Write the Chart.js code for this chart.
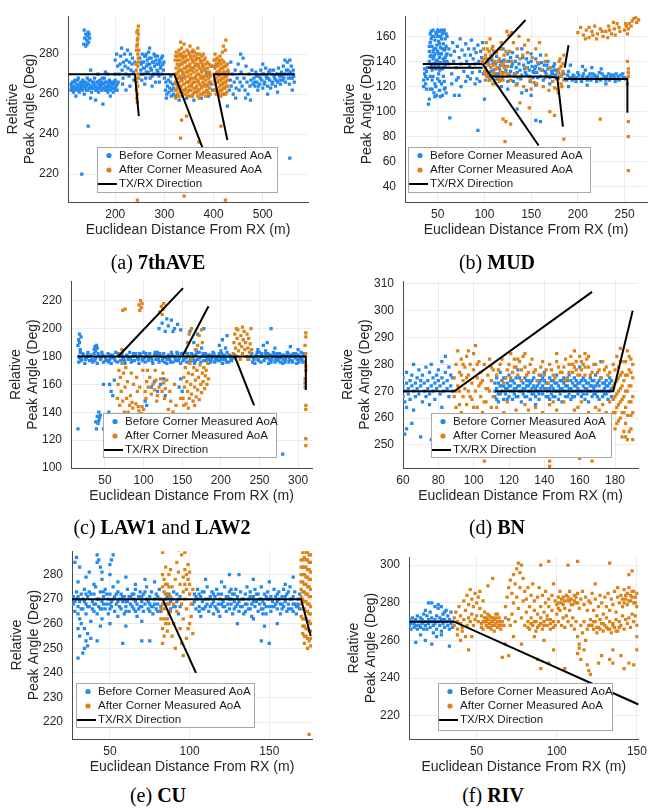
<!DOCTYPE html>
<html>
<head>
<meta charset="utf-8">
<script src="https://cdn.jsdelivr.net/npm/chart.js@4.4.1/dist/chart.umd.min.js"></script>
<style>
  body { margin: 0; background: #fff; width: 652px; height: 808px; position: relative; overflow: hidden; }
  .cap { position: absolute; width: 220px; text-align: center; line-height: 24px;
         font-family: "Liberation Serif", "DejaVu Serif", serif; font-size: 20px; color: #000; }
</style>
</head>
<body>
<script>
// ---- data ----

// (a) 7thAVE
const aBefore = [
  [136,285],[138,288],[140,290],[142,287],[144,289],[146,286],[148,288],[140,284],[145,291],[137,292],[143,285],[147,290],
  [110,262],[110,265],[112,263],[113,266],[115,261],[116,264],[118,267],[119,263],[121,262],[122,265],[124,264],[125,268],
  [127,261],[128,263],[130,266],[131,264],[133,262],[134,267],[136,265],[137,260],[139,263],[140,266],[142,264],[143,268],
  [145,262],[146,265],[148,263],[149,267],[151,264],[152,261],[154,266],[155,263],[157,265],[158,268],[160,262],[161,264],
  [163,266],[164,263],[166,261],[167,265],[169,267],[170,264],[172,262],[173,266],[175,263],[176,265],[178,268],[179,262],
  [181,264],[182,266],[184,263],[185,261],[187,265],[188,267],[190,262],[191,264],[193,266],[194,263],[196,261],[197,265],
  [199,263],[200,267],[202,264],[204,262],[150,258],[160,257],[120,259],[190,259],[200,270],[185,270],
  [111,264],[114,262],[117,266],[120,263],[123,267],[126,262],[129,265],[132,263],[135,266],[138,264],[141,262],[144,265],
  [147,267],[150,264],[153,263],[156,266],[159,264],[162,262],[165,266],[168,263],[171,265],[174,268],[177,263],[180,266],
  [183,262],[186,264],[189,266],[192,263],[195,265],[198,266],[201,262],[204,265],
  [150,272],[165,270],[180,271],[200,277],[203,280],[205,274],
  [206,266],[208,270],[210,275],[211,279],[213,283],[214,272],[216,268],[217,276],[219,280],[220,274],[222,270],[223,277],
  [225,282],[226,273],[228,269],[229,276],[231,280],[232,272],[234,275],[235,278],[237,271],[238,267],[240,276],[215,265],
  [230,264],[222,262],
  [250,278],[252,272],[253,275],[255,280],[256,270],[258,276],[259,273],[261,279],[262,268],[264,274],[265,277],[267,271],
  [268,281],[270,275],[271,268],[273,278],[274,272],[276,276],[277,270],[279,280],[280,274],[282,266],[283,277],[285,272],
  [286,279],[288,275],[289,269],[291,276],[292,273],[294,278],[295,270],[297,275],[298,272],[300,268],[260,265],[275,264],
  [290,266],[270,283],
  [251,270],[254,276],[257,273],[260,279],[263,271],[266,275],[269,278],[272,273],[275,269],[278,276],[281,279],[284,275],
  [287,271],[290,277],[293,274],[296,279],[299,276],[254,267],[263,280],[281,270],
  [302,262],[303,266],[305,260],[306,264],[308,267],[309,261],[311,263],[312,266],[314,259],[315,262],[317,265],[318,260],
  [304,258],[313,269],[319,263],
  [322,259],[330,257],[345,258],[360,257],[375,258],[390,259],[335,268],[370,262],[385,271],[395,265],[398,262],[392,270],[396,274],
  [432,262],[434,267],[436,264],[438,270],[440,260],[442,266],[444,272],[446,263],[448,268],[450,275],[452,262],[454,266],
  [456,271],[458,264],[460,278],[462,268],[464,262],[466,274],[468,266],[470,260],[472,270],[474,264],[476,267],[478,272],
  [480,265],[445,258],[465,258],[455,280],[475,257],[435,276],
  [482,268],[484,264],[486,271],[488,266],[490,262],[492,269],[494,265],[496,272],[498,267],[500,263],[502,270],[504,266],
  [506,273],[508,268],[510,264],[512,271],[514,267],[516,263],[518,270],[520,266],[522,272],[524,268],[526,264],[528,270],
  [530,266],[532,273],[534,269],[536,265],[538,271],[540,267],[542,274],[544,270],[546,266],[548,272],[550,276],[552,268],
  [554,265],[556,271],[558,274],[560,268],[562,272],[564,266],[545,277],[555,277],[510,260],[530,261],[500,275],
  [483,266],[487,269],[491,264],[495,268],[499,270],[503,265],[507,269],[511,268],[515,272],[519,265],[523,269],[527,267],
  [531,270],[535,267],[539,269],[543,268],[547,270],[551,272],[553,270],[557,268],[561,270],[563,269],
  [132,220],[145,244],[175,255],[555,228],[428,254],[560,262]
];
const aAfter = [
  [243,262],[244,266],[245,270],[246,274],[247,278],[243,282],[245,285],[246,288],[244,291],[247,294],[245,260],[246,264],
  [244,268],[243,272],[247,276],[246,280],[244,284],[245,287],[247,290],[246,292],[248,268],[242,275],[248,282],[244,258],[245,256],
  [322,262],[322,270],[322,277],[324,265],[324,273],[324,281],[326,260],[326,268],[326,275],[328,263],[328,271],[328,279],
  [330,266],[330,274],[330,282],[332,261],[332,269],[332,277],[334,264],[334,272],[334,280],[336,259],[336,267],[336,275],
  [338,262],[338,270],[338,278],[340,265],[340,273],[340,281],[342,260],[342,268],[342,276],[344,263],[344,271],[344,279],
  [346,266],[346,274],[346,282],[348,261],[348,269],[348,277],[350,264],[350,272],[350,280],[352,259],[352,267],[352,275],
  [354,262],[354,270],[354,278],[356,265],[356,273],[356,281],[358,260],[358,268],[358,276],[360,263],[360,271],[360,279],
  [362,266],[362,274],[364,261],[364,269],[364,277],[366,264],[366,272],[366,280],[368,259],[368,267],[368,275],[370,262],
  [370,270],[370,278],[372,265],[372,273],[374,260],[374,268],[374,276],[376,263],[376,271],[376,279],[378,266],[378,274],
  [380,261],[380,269],[380,277],[382,264],[382,272],[384,259],[384,267],[384,275],[386,262],[386,270],[388,265],[388,273],
  [390,260],[390,268],[392,263],[392,271],[394,266],[394,274],[340,285],[335,283],[333,286],[368,283],[352,284],[358,282],
  [323,258],[323,266],[323,279],[325,262],[325,270],[327,264],[327,277],[329,259],[329,268],[331,272],[331,280],[333,263],
  [333,275],[335,267],[335,279],[337,261],[337,271],[339,265],[339,276],[341,269],[341,279],[343,262],[343,273],[345,266],
  [345,277],[347,259],[347,271],[349,266],[349,281],[351,262],[351,274],[353,268],[353,279],[355,264],[355,272],[357,259],
  [357,277],[359,266],[359,273],[361,261],[361,281],[363,268],[363,275],[365,263],[365,278],[367,270],[367,261],[369,274],
  [369,266],[371,258],[371,280],[373,269],[373,277],[375,264],[375,272],[377,260],[377,275],[379,268],[379,280],[381,265],
  [381,273],[383,261],[383,278],[385,269],[387,264],[387,276],[389,270],[389,261],[391,266],[391,275],[393,260],[393,269],
  [401,262],[401,270],[401,277],[403,265],[403,273],[403,280],[405,260],[405,268],[405,275],[407,263],[407,271],[407,278],
  [409,266],[409,274],[411,261],[411,269],[411,276],[413,264],[413,272],[413,279],[415,259],[415,267],[415,275],[417,262],
  [417,270],[417,277],[419,265],[419,273],[421,260],[421,268],[421,276],[423,263],[423,271],[425,266],[425,274],[427,261],
  [427,269],[429,264],[429,272],[418,281],[420,284],[425,287],[424,282],[415,244],
  [402,267],[402,274],[404,262],[404,277],[406,270],[408,266],[408,275],[410,260],[410,271],[412,267],[412,277],[414,262],
  [414,270],[416,265],[416,273],[418,268],[418,260],[420,271],[420,263],[422,266],[422,274],[424,260],[424,269],[426,264],
  [428,267],[428,275],
  [335,247],[333,238],[345,249],[370,236],[340,209],[245,207],[424,207],[430,271]
];
const aDirection = [
  [[105,270],[240,270],[248,249]],
  [[250,270],[320,270],[395,222]],
  [[400,270],[565,270]],
  [[400,270],[428,237]]
];
const aXTicks = [200, 300, 400, 500];
const aYTicks = [220, 240, 260, 280];

// (b) MUD
const bBefore = [
  [35,120],[35,125],[36,130],[36,134],[37,122],[37,128],[38,132],[38,118],[39,126],[39,135],
  [41,140],[41,148],[42,155],[42,162],[43,136],[43,145],[44,152],[44,160],[45,165],[45,142],[46,150],[46,138],[47,157],
  [47,146],[48,163],[48,134],[49,153],[49,141],[50,160],[50,148],[51,136],[51,156],[52,143],[52,164],[53,151],[53,139],
  [54,158],[54,146],[55,162],[55,134],[56,154],[56,142],[57,165],[57,149],[58,137],[58,158],[59,145],[59,152],[60,140],[60,160],
  [41,152],[42,144],[43,158],[44,138],[45,148],[46,160],[47,136],[48,150],[49,162],[50,140],[51,146],[52,154],[53,160],
  [54,138],[55,150],[56,163],[57,140],[58,150],[59,162],[60,146],[44,133],[48,140],[52,133],[56,135],[43,164],[50,165],
  [54,165],[58,143],[46,144],[53,146],[42,128],[47,122],[52,124],[57,118],[49,113],[44,118],
  [40,106],[41,110],[42,118],[44,125],[46,115],[48,120],[50,126],[52,117],[54,122],[55,113],[56,128],[58,119],[59,115],
  [57,124],[53,112],[51,130],[45,128],[47,112],
  [62,150],[62,138],[64,145],[65,130],[66,155],[67,140],[68,148],[70,135],[71,152],[72,127],[73,143],[74,158],[75,138],
  [76,149],[78,132],[79,145],[80,154],[81,140],[82,128],[83,150],[84,136],[85,145],[86,157],[87,131],[88,142],[89,150],
  [90,138],[91,147],[92,126],[93,153],[94,140],[95,132],[96,148],[97,143],[98,155],[99,130],[65,122],[70,125],[75,120],
  [80,124],[85,126],[90,122],[95,124],[68,113],[73,113],[63,95],[93,85],
  [101,135],[103,128],[105,142],[107,132],[109,138],[111,125],[113,144],[115,130],[117,137],[119,127],[121,141],[123,133],
  [125,146],[127,129],[129,136],[131,124],[133,140],[135,131],[137,138],[139,126],[141,143],[143,134],[145,129],[147,139],
  [149,124],[151,136],[153,131],[155,142],[157,127],[159,134],[161,139],[163,125],[165,132],[167,137],[169,128],[171,135],
  [173,130],[175,133],[177,126],[179,131],[110,148],[120,150],[130,147],[150,146],[140,150],[160,145],[118,120],[135,122],
  [155,121],[170,122],[125,118],[145,117],
  [102,131],[104,139],[106,128],[108,141],[110,133],[112,138],[114,126],[116,134],[118,140],[120,131],[122,136],[124,128],
  [126,140],[128,132],[130,138],[132,130],[134,135],[136,127],[138,133],[140,129],[142,137],[144,131],[146,135],[148,128],
  [150,140],[152,127],[154,134],[156,131],[158,138],[160,128],[162,133],[164,137],[166,130],[168,134],[170,127],[172,132],
  [174,136],[176,129],[178,133],[180,128],[105,125],[115,140],[125,124],[135,144],[145,142],[155,136],[165,127],[175,138],
  [112,130],[132,128],[152,132],[172,129],[128,143],[148,133],[168,140],
  [185,130],[188,125],[190,132],[193,127],[195,129],[198,124],[200,131],[203,126],[205,128],[208,133],[210,125],[213,130],
  [215,127],[218,129],[220,124],[223,131],[225,126],[228,128],[230,125],[233,130],[235,127],[238,129],[240,124],[243,128],
  [245,126],[248,130],[250,127],[192,137],[205,136],[215,135],[225,134],[190,120],[210,121],[230,122],
  [182,128],[186,126],[189,129],[191,127],[194,125],[196,128],[199,127],[201,129],[204,124],[206,130],[209,127],[211,128],
  [214,125],[216,130],[219,127],[221,128],[224,125],[226,130],[229,127],[231,128],[234,125],[236,129],[239,127],[241,130],
  [244,125],[246,129],[249,127],[251,126],
  [100,110],[163,70],[135,102],[155,93],[160,92],[140,115],[150,113]
];
const bAfter = [
  [98,140],[99,150],[100,132],[101,145],[102,155],[103,128],[104,138],[105,148],[106,125],[107,135],[108,143],[109,152],
  [110,130],[111,140],[112,122],[113,147],[114,135],[115,127],[116,142],[117,132],[118,150],[119,137],[120,125],[121,145],
  [122,131],[123,140],[124,128],[125,136],[100,138],[104,130],[108,150],[112,134],[116,124],[120,138],[102,142],[110,137],
  [106,158],[118,155],
  [99,142],[101,130],[103,150],[105,137],[107,145],[109,130],[111,148],[113,128],[115,140],[117,150],[119,130],[121,135],
  [123,148],[125,130],[101,125],[109,122],[117,125],
  [127,148],[129,140],[131,155],[133,130],[135,150],[137,160],[139,128],[141,145],[143,153],[145,135],[147,157],[149,125],
  [151,143],[153,123],[155,150],[157,139],[159,155],[128,125],[134,121],[142,120],[150,118],[156,122],[146,147],[138,142],
  [126,161],[129,163],[124,164],
  [161,133],[163,120],[165,140],[167,128],[169,117],[171,135],[173,124],[175,119],[166,145],
  [178,118],[179,126],[180,134],[181,142],[182,122],[183,130],[184,138],[185,145],[179,115],[181,128],[183,120],[184,132],
  [180,140],[182,136],[185,125],[178,131],
  [200,163],[203,167],[206,161],[209,165],[212,159],[215,164],[218,168],[221,162],[224,166],[227,160],[230,164],[233,168],
  [236,162],[239,166],[242,170],[245,164],[208,158],[220,158],[232,159],[238,171],[212,167],[226,164],[234,165],[240,161],
  [244,167],[216,161],
  [250,165],[252,168],[253,162],[255,170],[258,172],[260,174],[263,171],[265,173],[257,168],[262,175],[251,170],[254,166],
  [253,122],[254,128],[254,134],[253,140],[254,131],[254,92],[254,80],[254,53],
  [120,94],[123,92],[128,90],[122,76],[138,107],[148,103],[170,100],[175,97],[185,78],[224,94]
];
const bDirection = [
  [[34,138],[98,138]],
  [[40,135],[98,135]],
  [[98,138],[158,73]],
  [[100,138],[144,173]],
  [[108,128],[166,128],[180,127]],
  [[178,127],[184,88]],
  [[186,135],[190,153]],
  [[185,126],[253,126],[253,99]]
];
const bXTicks = [50, 100, 150, 200, 250];
const bYTicks = [40, 60, 80, 100, 120, 140, 160];

// (c) LAW1 and LAW2
const cBefore = [
  [16,180],[16,176],[18,183],[20,178],[22,181],[24,175],[26,179],[28,183],[30,177],[32,181],[34,176],[36,182],[38,179],
  [40,175],[42,181],[44,178],[46,183],[48,176],[50,180],[52,177],[54,182],[56,178],[58,175],[60,181],[62,179],[64,183],
  [66,176],[68,180],[70,177],[72,182],[74,179],[76,175],[78,181],[80,178],[82,183],[84,176],[86,180],[88,177],[90,182],
  [92,179],[94,175],[96,181],[98,178],[100,183],[102,176],[104,180],[106,177],[108,182],[110,179],[112,175],[114,181],
  [116,178],[118,183],[120,176],[122,180],[124,177],[126,182],[128,179],[130,175],[132,181],[134,178],[136,183],[138,176],
  [140,180],[142,177],[144,182],[146,179],[148,175],[150,181],[152,178],[154,183],[156,176],[158,180],[160,177],[162,182],
  [164,179],[166,175],[168,181],[170,178],[172,183],[174,176],[176,180],[178,177],[180,182],[182,179],[184,175],[186,181],
  [188,178],[190,183],[192,176],[194,180],[196,177],[198,182],[200,179],[202,175],[204,181],[206,178],[208,183],[210,176],
  [212,180],[214,177],[240,182],[242,179],[244,175],[246,181],[248,178],[250,183],[252,176],[254,180],[256,177],[258,182],
  [260,179],[262,175],[264,181],[266,178],[268,183],[270,176],[272,180],[274,177],[276,182],[278,179],[280,175],[282,181],
  [284,178],[286,183],[288,176],[290,180],[292,177],[294,182],[296,179],[298,175],[300,181],[302,178],[304,183],[306,176],
  [308,180],[19,177],[27,181],[45,179],[57,181],[73,178],[87,182],[101,179],[117,181],[131,178],[147,180],[163,177],
  [179,180],[195,178],[209,180],[243,178],[259,180],[275,179],[291,181],[305,178],
  [17,179],[21,182],[25,178],[29,180],[33,178],[37,177],[41,182],[47,181],[51,178],[55,176],[59,179],[63,177],[67,182],
  [71,180],[75,177],[79,180],[83,179],[85,177],[89,181],[93,178],[95,182],[99,177],[103,182],[107,179],[111,177],[115,183],
  [119,178],[121,182],[125,179],[127,176],[133,180],[135,176],[137,181],[141,178],[143,183],[145,177],[149,182],[151,177],
  [155,179],[157,182],[161,178],[165,181],[167,177],[169,183],[173,179],[177,182],[181,177],[183,181],[185,178],[187,176],
  [189,180],[191,182],[193,178],[197,180],[199,177],[201,182],[203,178],[205,180],[207,176],[211,181],[213,178],[241,176],
  [245,180],[247,183],[249,177],[251,180],[253,182],[257,179],[261,182],[263,178],[265,176],[267,180],[269,182],[271,178],
  [273,182],[277,176],[279,181],[281,178],[283,176],[285,180],[287,182],[289,178],[293,176],[295,180],[297,182],[299,178],
  [301,176],[303,180],[307,182],[216,179],[218,181],[238,180],[236,178],
  [15,188],[16,192],[17,196],[18,185],[17,190],[19,194],[36,185],[37,187],[38,184],[39,188],[40,186],
  [38,133],[40,137],[42,140],[41,132],[43,136],[39,128],[44,138],[42,134],[56,160],[58,155],[62,163],[60,152],
  [102,148],[104,145],[110,158],[114,162],[118,155],[122,160],[126,164],[128,152],
  [120,200],[124,204],[128,198],[132,202],[136,206],[140,200],[144,203],[148,199],[130,207],[138,198],
  [146,158],[148,164],[150,155],[165,190],[170,196],[175,186],[178,200],[168,185],[198,188],[202,192],[206,186],[208,195],
  [200,184],[248,185],[255,188],[260,190],[265,200],[258,184],[270,186],[290,187],[300,185],
  [15,128],[48,128],[280,110],[48,160],[55,140],[160,198]
];
const cAfter = [
  [66,150],[67,160],[68,170],[69,145],[70,165],[71,155],[72,175],[73,148],[74,168],[75,140],[76,158],[77,172],[78,150],
  [79,162],[73,213],[76,214],[70,182],[72,185],
  [80,140],[82,145],[84,136],[86,143],[88,138],[90,146],[92,135],[94,141],[96,137],[98,144],[81,137],[85,147],[89,134],
  [93,144],[97,139],[100,142],[83,152],[87,160],[91,165],[95,158],[99,170],[84,168],[92,155],
  [94,217],[96,220],[97,215],[98,218],[95,213],
  [102,155],[104,162],[106,158],[108,165],[110,153],[112,160],[114,156],[116,163],[118,152],[120,158],[122,164],[124,155],
  [126,161],[128,157],[130,163],[105,170],[115,170],[125,168],[103,150],[117,148],[127,150],
  [121,212],[123,216],[125,214],[126,218],[124,210],
  [132,142],[135,148],[138,140],[142,145],[145,138],[148,150],[134,155],[140,160],[136,130],[131,125],
  [151,150],[152,165],[153,158],[154,172],[155,146],[156,162],[157,155],[158,168],[159,150],[160,175],[161,160],[162,153],
  [163,167],[164,148],[165,172],[166,158],[167,163],[168,151],[169,170],[170,156],[171,165],[172,149],[173,174],[174,160],
  [175,154],[176,168],[177,162],[178,172],[179,157],[180,166],[181,170],[182,160],[183,175],[184,164],[152,145],[158,143],
  [166,145],[155,180],[162,178],[157,190],[159,196],[162,200],[167,185],[172,195],[176,190],[170,188],[175,199],
  [216,182],[217,190],[218,196],[219,186],[220,180],[221,193],[222,199],[223,184],[224,189],[225,178],[226,195],[227,187],
  [228,182],[229,192],[230,198],[231,185],[232,190],[233,180],[234,196],[235,186],[236,193],[237,183],[238,189],[239,200],
  [240,185],[220,200],[228,201],[235,178],
  [309,158],[309,164],[310,170],[309,176],[310,182],[309,188],[310,194],[310,197],[309,161],[310,173],[310,145],[310,142],
  [310,121],[310,116]
];
const cDirection = [
  [[15,180],[310,180],[310,156]],
  [[67,180],[151,229]],
  [[151,181],[184,216]],
  [[218,180],[243,145]]
];
const cXTicks = [50, 100, 150, 200, 250, 300];
const cYTicks = [100, 120, 140, 160, 180, 200, 220];

// (d) BN
const dBefore = [
  [60,268],[60,272],[60,275],[61,270],[61,266],[62,273],[62,277],[63,269],[63,271],[64,274],[64,267],[65,272],[65,276],
  [66,270],[66,280],[67,273],[67,268],[68,275],[68,271],[69,278],[69,269],[70,272],[70,274],[71,266],[71,276],[72,270],
  [72,273],[73,279],[73,268],[74,274],[74,271],[75,277],[75,269],[76,272],[76,280],[77,275],[77,270],[78,273],[78,267],
  [79,276],[79,271],[80,274],[80,278],[81,269],[81,272],[82,275],[82,281],[83,270],[83,273],[84,277],[84,283],[85,271],
  [85,274],[86,279],[86,268],[87,272],[87,276],[88,275],[88,270],[62,264],[66,263],[75,265],[82,264],
  [61,254],[62,256],[70,253],[77,259],[76,252],[65,258],
  [112,268],[112,273],[113,271],[113,275],[114,269],[114,266],[115,272],[115,277],[116,270],[116,274],[117,267],[117,272],
  [118,275],[118,269],[119,271],[119,273],[120,268],[120,276],[121,272],[121,270],[122,274],[122,267],[123,269],[123,273],
  [124,271],[124,275],[125,268],[125,278],[126,272],[126,270],[127,274],[127,266],[128,269],[128,273],[129,271],[129,275],
  [130,268],[130,272],[131,270],[131,274],[132,267],[132,273],[133,271],[133,269],[134,275],[134,272],[135,268],[135,265],
  [136,270],[136,274],[137,273],[137,267],[138,271],[138,276],[139,269],[139,272],[140,274],[140,277],[141,268],[141,271],
  [142,273],[142,270],[143,275],[143,267],[144,269],[144,272],[145,271],[145,274],[146,268],[146,273],[147,270],[147,276],
  [148,272],[148,267],[149,274],[149,269],[150,271],[150,266],[151,273],[151,275],[152,268],[152,270],[153,272],[153,274],
  [154,269],[154,276],[155,271],[155,267],[156,273],[156,270],[157,275],[157,268],[158,272],[158,274],[159,269],[159,271],
  [160,279],[160,273],[161,268],[161,270],[162,275],[162,272],[163,267],[163,274],[164,271],[164,269],[165,273],[165,266],
  [166,270],[166,275],[167,272],[167,268],[168,274],[168,271],[169,269],[169,276],[170,273],[170,270],[171,267],[171,272],
  [172,281],[172,275],[173,270],[173,268],[174,273],[174,271],[175,269],[175,274],[176,272],[176,267],[177,270],[177,275],
  [178,271],[178,268],
  [112,270],[113,267],[114,273],[115,269],[116,272],[117,275],[118,271],[119,267],[120,272],[121,274],[122,270],[123,271],
  [124,268],[125,272],[126,275],[127,270],[128,271],[129,268],[130,274],[131,272],[132,270],[133,274],[134,269],[135,271],
  [136,272],[137,269],[138,274],[139,275],[140,271],[141,273],[142,268],[143,271],[144,274],[145,268],[146,270],[147,273],
  [148,270],[149,271],[150,274],[151,270],[152,272],[153,268],[154,271],[155,274],[156,268],[157,272],[158,270],[159,273],
  [160,270],[161,274],[162,269],[163,271],[164,273],[165,270],[166,272],[167,274],[168,269],[169,272],[170,268],[171,274],
  [172,270],[173,273],[174,269],[175,272],[176,270],[177,273],[178,274]
];
const dAfter = [
  [89,275],[89,268],[90,280],[90,264],[91,272],[91,285],[92,270],[92,277],[93,262],[93,282],[94,274],[94,268],[95,279],
  [95,271],[96,265],[96,283],[97,276],[97,270],[98,261],[98,280],[99,273],[99,267],[100,278],[100,284],[101,287],[101,270],
  [102,275],[102,264],[103,281],[103,272],[104,268],[104,277],[105,262],[105,274],[106,280],[106,258],[107,271],[107,266],
  [108,276],[108,260],[109,270],[109,282],[110,264],[110,274],[111,268],[111,278],[106,244],[95,258],[100,256],[92,257],
  [90,270],[92,265],[94,280],[96,275],[98,268],[100,264],[102,280],[104,273],[106,266],[108,271],[110,279],[97,285],[93,276],
  [114,278],[116,282],[118,275],[120,280],[121,284],[122,277],[123,282],[124,279],[125,276],[126,281],[127,278],[128,283],
  [130,276],[132,280],[134,277],[136,274],[138,279],[140,276],[142,273],[144,278],[146,275],[148,279],[150,277],[152,282],
  [153,275],[154,280],[155,283],[156,277],[157,279],[158,281],[159,276],[160,283],[161,278],[162,280],[163,276],[164,282],
  [165,279],[166,276],[168,280],[170,277],[172,275],[174,278],[176,276],
  [113,276],[115,280],[117,273],[119,278],[121,275],[123,279],[125,282],[127,274],[129,279],[131,277],[133,282],[135,278],
  [137,276],[139,281],[141,278],[143,280],[145,276],[147,281],[149,277],[151,279],[152,274],[154,277],[156,280],[158,278],
  [160,276],[161,281],[163,279],[165,283],[167,277],[169,280],[171,278],[173,281],[175,279],[177,277],[129,284],[147,284],
  [157,285],[163,284],[131,263],[145,266],[159,264],[171,263],[125,260],[139,258],[155,259],[167,261],
  [113,264],[115,259],[117,262],[119,266],[121,260],[124,263],[127,258],[129,265],[131,261],[133,256],[135,264],[137,259],
  [139,262],[141,257],[143,265],[145,260],[147,263],[149,258],[151,266],[153,261],[155,255],[157,263],[159,260],[161,266],
  [163,258],[165,262],[167,256],[169,264],[171,260],[173,265],[175,262],[177,266],[143,242],[143,244],[144,246],[160,245],
  [167,244],[137,250],[150,251],[120,253],
  [179,262],[179,272],[180,256],[180,268],[180,278],[181,264],[181,274],[181,283],[182,259],[182,270],[182,279],[183,266],
  [183,276],[184,253],[184,262],[184,272],[185,268],[185,281],[186,258],[186,264],[186,276],[187,270],[187,285],[188,255],
  [188,266],[188,278],[189,261],[189,272],[189,282],[190,252],[190,268],[190,275],[183,286],[187,252],[179,280],[185,255],
  [179,267],[180,262],[180,273],[181,258],[181,269],[182,265],[182,275],[183,260],[183,271],[183,281],[184,267],[184,277],
  [185,262],[185,274],[186,270],[186,281],[187,261],[187,276],[188,272],[188,283],[189,266],[189,277],[190,262],[190,280],
  [189,256],[186,253]
];
const dDirection = [
  [[60,270],[89,270],[167,307]],
  [[112,270],[179,270],[190,300]]
];
const dXTicks = [60, 80, 100, 120, 140, 160, 180];
const dYTicks = [250, 260, 270, 280, 290, 300, 310];

// (e) CU
const eBefore = [
  [27,268],[27,271],[28,265],[29,270],[29,273],[30,267],[31,269],[31,262],[32,272],[33,266],[33,270],[34,274],[35,268],
  [35,264],[36,271],[37,267],[37,273],[38,261],[39,269],[39,266],[40,272],[41,268],[41,275],[42,264],[43,270],[43,267],
  [44,273],[45,269],[45,262],[46,271],[47,266],[47,274],[48,268],[49,270],[49,264],[50,272],[51,267],[51,269],[52,275],
  [53,265],[53,271],[54,268],[55,273],[55,263],[56,270],[57,266],[57,272],[58,269],[59,264],[59,271],[60,267],[61,274],
  [61,269],[62,265],[63,271],[63,268],[64,272],[65,266],[65,270],[66,274],[67,268],[67,263],[68,271],[69,267],[69,273],
  [70,269],[71,265],[71,272],[72,268],[73,270],[73,275],[74,266],[75,271],[75,268],[76,273],[77,267],[77,264],[78,270],
  [79,272],[79,266],[80,268],[81,274],[81,270],[82,265],[86,268],[87,272],[88,266],[89,270],[90,273],[91,267],[92,269],
  [93,264],[94,271],[102,268],[103,272],[104,266],[105,270],[105,274],[106,267],[107,271],[107,263],[108,269],[109,273],
  [109,266],[110,270],[111,268],[111,275],[112,265],[113,271],[113,267],[114,273],[115,269],[115,264],[116,271],[117,266],
  [117,274],[118,268],[119,270],[119,263],[120,272],[121,267],[121,269],[122,275],[123,265],[123,271],[124,268],[125,273],
  [125,266],[126,270],[127,264],[127,272],[128,269],[129,267],[129,274],[130,271],[131,265],[131,269],[132,273],[133,267],
  [133,270],[134,264],[135,272],[135,268],[136,275],[137,266],[137,270],[138,273],[139,268],[139,263],[140,271],[141,267],
  [141,274],[142,269],[143,265],[143,272],[144,268],[145,270],[145,275],[146,266],[147,272],[147,268],[148,264],[149,270],
  [149,273],[150,267],[151,271],[151,265],[152,269],[153,274],[153,267],[154,271],[155,266],[155,269],[156,273],[157,268],
  [157,264],[158,271],[159,267],[159,274],[160,269],[161,265],[161,272],[162,268],[163,270],[163,275],[164,266],[165,271],
  [165,268],[166,273],[167,267],[167,264],[168,270],[169,272],[169,266],
  [28,269],[30,271],[32,266],[34,269],[36,267],[38,272],[40,268],[42,270],[44,266],[46,268],[48,272],[50,266],[52,270],
  [54,272],[56,267],[58,271],[60,269],[62,271],[64,267],[66,269],[68,266],[70,271],[72,273],[74,269],[76,267],[78,268],
  [80,271],[82,267],[86,271],[88,269],[90,267],[92,272],[94,267],[103,269],[104,271],[106,272],[108,266],[110,267],
  [112,270],[114,268],[116,267],[118,272],[120,268],[122,267],[124,271],[126,268],[128,272],[130,268],[132,267],[134,270],
  [136,268],[138,266],[140,269],[142,272],[144,270],[146,269],[148,271],[150,270],[152,267],[154,268],[156,270],[158,268],
  [160,271],[162,266],[164,270],[166,268],[168,267],[30,264],[40,265],[50,268],[60,265],[70,267],[80,265],[108,273],
  [118,265],[128,266],[138,271],[148,267],[158,266],[168,268],[35,272],[45,266],[55,269],[65,272],[75,265],[85,270],
  [115,272],[125,270],[135,265],[145,266],[155,272],[165,265],[46,273],[66,265],[106,265],[126,274],[146,264],[162,273],
  [30,277],[35,279],[40,276],[45,278],[50,280],[55,277],[60,279],[66,276],[72,278],[78,277],[110,278],[120,277],[125,280],
  [131,280],[140,278],[150,277],[160,276],[165,279],[34,258],[36,256],[32,260],[38,254],[44,259],[50,260],[60,259],
  [70,261],[140,262],[147,259],[155,260],[130,260],
  [28,285],[29,287],[31,283],[42,285],[42,288],[43,286],[44,283],[45,281],[50,284],[51,286],[52,288],[37,281],
  [30,246],[33,248],[34,250],[35,253],[36,251],[42,253],[58,252],[70,253],[75,253],[145,253],[150,252],[30,258],[31,255]
];
const eAfter = [
  [82,262],[82,270],[83,275],[83,258],[84,266],[84,278],[85,272],[85,260],[86,268],[86,276],[87,264],[87,280],[83,252],
  [84,255],[86,257],[85,283],[83,289],[88,271],[87,268],[84,273],[86,262],
  [82,266],[83,268],[83,280],[84,262],[85,276],[86,272],[87,260],[87,275],[88,265],
  [89,275],[90,260],[91,278],[92,285],[92,265],[93,270],[93,281],[94,258],[94,276],[95,288],[95,268],[96,273],[96,279],
  [96,262],[97,282],[97,270],[97,276],[98,274],[98,280],[98,266],[99,278],[99,284],[99,258],[100,272],[100,276],[100,281],
  [101,268],[101,263],[102,256],[102,274],[95,252],[96,247],[93,290],[97,289],[89,255],[91,250],[98,254],[100,260],
  [90,268],[88,282],
  [170,274],[170,280],[170,286],[171,256],[171,262],[171,270],[171,277],[171,283],[172,252],[172,259],[172,266],[172,273],
  [172,280],[172,287],[173,255],[173,262],[173,269],[173,276],[173,283],[173,289],[174,250],[174,258],[174,265],[174,272],
  [174,279],[174,286],[175,253],[175,261],[175,268],[175,275],[175,282],[175,288],[176,251],[176,257],[176,264],[176,271],
  [176,278],[176,285],[171,289],[170,268],[170,263],
  [170,271],[170,277],[170,283],[171,259],[171,266],[171,273],[171,280],[171,286],[172,255],[172,262],[172,269],[172,276],
  [172,283],[173,258],[173,265],[173,272],[173,279],[173,286],[174,254],[174,261],[174,268],[174,275],[174,282],[174,289],
  [175,257],[175,264],[175,271],[175,278],[175,285],[176,254],[176,260],[176,267],[176,274],[176,281],[176,288],
  [175,215]
];
const eDirection = [
  [[26,270],[170,270],[176,255]],
  [[83,270],[104,240]]
];
const eXTicks = [50, 100, 150];
const eYTicks = [220, 230, 240, 250, 260, 270, 280];

// (f) RIV
const fBefore = [
  [8,268],[8,271],[9,269],[9,266],[10,270],[10,272],[11,267],[11,269],[12,271],[12,268],[13,266],[13,273],[14,270],
  [14,268],[15,272],[15,267],[16,269],[16,271],[17,266],[17,274],[18,270],[18,268],[19,273],[19,266],[20,271],[20,269],
  [21,267],[21,275],[22,270],[22,272],[23,268],[23,264],[24,271],[24,269],[25,273],[25,266],[26,270],[26,277],[27,268],
  [27,272],[28,271],[28,265],[29,269],[29,274],[30,267],[30,271],[31,270],[31,276],[32,268],[32,273],[33,266],[33,271],
  [34,269],[34,275],[35,270],[35,267],[20,280],[22,280],[24,278],[26,279],[28,278],[18,276],[30,275],[12,259],[18,260],
  [22,258],[28,263],[33,257],[15,263],[25,262]
];
const fAfter = [
  [36,272],[36,268],[37,275],[38,266],[38,270],[39,278],[40,269],[40,273],[41,267],[42,281],[42,271],[43,276],[44,268],
  [44,284],[45,272],[45,279],[46,270],[46,287],[47,274],[47,282],[48,268],[48,278],[49,285],[49,271],[50,280],[50,273],
  [41,265],[43,262],[45,255],[47,262],[38,263],[40,260],
  [51,283],[51,270],[52,277],[52,286],[53,269],[53,273],[54,281],[54,266],[55,270],[55,275],[56,268],[56,272],[57,267],
  [57,271],[58,269],[58,273],[59,266],[59,270],[60,272],[60,268],[61,265],[61,271],[62,269],[62,274],[63,267],[63,270],
  [64,268],[64,272],[65,266],[65,270],[57,289],[60,293],[66,251],[70,252],
  [55,272],[56,270],[57,274],[58,267],[59,272],[60,270],[61,268],[62,272],[63,274],[64,270],[65,268],[54,270],[53,267],
  [66,270],[67,268],[68,272],[68,278],[69,283],[70,288],[70,271],[71,292],[71,268],[72,285],[72,274],[73,295],[73,280],
  [74,290],[74,270],[75,298],[75,283],[76,301],[76,277],[77,296],[77,288],[78,300],[78,272],[79,293],[79,281],[80,286],
  [80,268],[68,258],[73,262],[78,258],
  [81,275],[81,282],[82,270],[82,288],[83,266],[83,278],[84,284],[84,272],[85,268],[85,290],[86,276],[86,281],[87,270],
  [87,265],[88,283],[88,274],[89,288],[89,268],[90,272],[90,278],[91,284],[91,266],[92,270],[92,275],[93,280],[93,286],
  [94,268],[94,273],[95,278],[95,282],[96,266],[96,271],[97,284],[97,276],[98,270],[98,290],[99,281],[99,268],[100,274],
  [100,279],[90,300],[95,302],[86,262],[92,260],[88,250],[90,245],[95,248],[98,255],
  [82,267],[84,269],[86,270],[88,267],[90,269],[92,268],[94,271],[96,269],[98,267],
  [101,270],[101,283],[102,276],[102,286],[103,268],[103,280],[104,272],[104,283],[105,277],[105,267],[106,284],[106,273],
  [107,281],[107,270],[108,276],[108,286],[109,282],[109,268],[110,279],[110,272],[111,284],[111,266],[112,280],[112,270],
  [113,285],[113,262],[114,277],[114,258],[115,282],[115,268],[116,286],[116,264],[117,279],[117,270],[118,283],[118,260],
  [119,276],[119,266],[120,281],[120,268],[105,245],[107,300],[110,235],[113,253],[115,250],[117,255],[119,247],[120,244],
  [121,242],[114,256],
  [101,280],[103,282],[105,281],[107,283],[109,279],[111,281],[113,280],[101,277],[104,279],[108,281],[112,283],
  [121,271],[121,280],[122,268],[122,285],[123,266],[123,276],[124,270],[124,282],[125,264],[125,273],[126,278],[126,267],
  [127,284],[127,271],[128,269],[128,280],[129,265],[129,274],[130,283],[130,268],[131,272],[131,278],[132,266],[132,285],
  [133,270],[133,276],[134,264],[134,282],[135,269],[135,279],[136,267],[136,286],[137,271],[137,275],[138,265],[138,283],
  [139,270],[139,280],[140,268],[140,284],[141,273],[141,278],[142,266],[142,287],[143,271],[143,282],[144,269],[144,285],
  [145,272],[145,288],[146,267],[146,281],[147,274],[147,286],[148,270],[148,280],[149,273],[149,283],[150,268],[150,278],
  [121,268],[123,270],[125,267],[127,266],[129,269],[131,267],[133,266],[135,268],[137,265],[139,267],[141,282],[143,284],
  [145,281],[147,283],[149,280],[150,285],[142,280],[144,279],[146,284],[148,286],
  [113,302],[133,301],[145,295],[147,297],[124,290],[138,288],[133,250],[135,248],[140,252],[145,248],[148,247],[150,255],
  [150,262],[142,245],[135,255],[126,248],[128,252]
];
const fDirection = [
  [[8,270],[36,270],[151,226]]
];
const fXTicks = [50, 100, 150];
const fYTicks = [220, 240, 260, 280, 300];

const legendLabels = ['Before Corner Measured AoA', 'After Corner Measured AoA', 'TX/RX Direction'];

// ---- drawing ----
const SANS = '"Liberation Sans", Arial, Helvetica, sans-serif';
const BLUE = '#2389ee';
const ORANGE = '#de8217';
const AXIS_W = 68;   // room for y tick labels + two-line title
const AXIS_H = 42;   // room for x tick labels + title

function toXY(pairs) {
  return pairs.map(p => ({ x: p[0], y: p[1] }));
}

// legend drawn inside the plot, like the MATLAB one
function legendPlugin(box, offX, offY) {
  return {
    id: 'boxLegend',
    afterDraw(chart) {
      const ctx = chart.ctx;
      const x = box.x - offX, y = box.y - offY;
      ctx.save();
      ctx.fillStyle = '#fff';
      ctx.fillRect(x, y, box.w, box.h);
      ctx.strokeStyle = '#a8a8a8';
      ctx.lineWidth = 1;
      ctx.strokeRect(x + 0.5, y + 0.5, box.w - 1, box.h - 1);
      ctx.font = '11.6px ' + SANS;
      ctx.textBaseline = 'middle';
      const rows = [y + 8.5, y + 23, y + 37];
      [BLUE, ORANGE].forEach((c, i) => {
        ctx.beginPath();
        ctx.arc(x + 12, rows[i], 2.6, 0, Math.PI * 2);
        ctx.fillStyle = c;
        ctx.fill();
      });
      ctx.strokeStyle = '#000';
      ctx.lineWidth = 2;
      ctx.beginPath();
      ctx.moveTo(x + 1, rows[2]);
      ctx.lineTo(x + 20, rows[2]);
      ctx.stroke();
      ctx.fillStyle = '#1a1a1a';
      legendLabels.forEach((t, i) => ctx.fillText(t, x + 22, rows[i]));
      ctx.restore();
    }
  };
}

function makePanel(p) {
  const padTop = Math.min(8, p.area.top);
  const left = p.area.left - AXIS_W;
  const top = p.area.top - padTop;
  const padRight = Math.min(10, 652 - p.area.right);
  const w = p.area.right - left + padRight;
  const h = padTop + (p.area.bottom - p.area.top) + AXIS_H;

  const wrap = document.createElement('div');
  wrap.style.cssText = `position:absolute;left:${left}px;top:${top}px;width:${w}px;height:${h}px`;
  const canvas = document.createElement('canvas');
  canvas.width = w;
  canvas.height = h;
  wrap.appendChild(canvas);
  document.body.appendChild(wrap);

  // first dataset is painted last, so lines sit on top
  const datasets = p.lines.map(seg => ({
    data: toXY(seg), showLine: true, borderColor: '#000', borderWidth: 2,
    pointRadius: 0, fill: false, tension: 0
  }));
  datasets.push({ data: toXY(p.after), backgroundColor: ORANGE, pointStyle: 'rect', pointRadius: 2.3, borderWidth: 0 });
  datasets.push({ data: toXY(p.before), backgroundColor: BLUE, pointStyle: 'rect', pointRadius: 2.3, borderWidth: 0 });

  const tickFont = { family: SANS, size: 12 };
  const titleFont = { family: SANS, size: 14 };

  new Chart(canvas, {
    type: 'scatter',
    data: { datasets },
    options: {
      responsive: false,
      animation: false,
      events: [],
      layout: { padding: { left: 0, top: padTop, right: padRight, bottom: 0 } },
      plugins: { legend: { display: false }, tooltip: { enabled: false } },
      scales: {
        x: {
          type: 'linear', min: p.xRange[0], max: p.xRange[1],
          afterBuildTicks: s => { s.ticks = p.xTicks.map(v => ({ value: v })); },
          afterFit: s => { s.height = AXIS_H; },
          ticks: { font: tickFont, color: '#262626', padding: 5, maxRotation: 0 },
          grid: { color: '#ebebeb', drawTicks: false },
          border: { color: '#4a4a4a', width: 1 },
          title: { display: true, text: 'Euclidean Distance From RX (m)', font: titleFont, color: '#262626', padding: { top: 0, bottom: 5 } }
        },
        y: {
          type: 'linear', min: p.yRange[0], max: p.yRange[1],
          afterBuildTicks: s => { s.ticks = p.yTicks.map(v => ({ value: v })); },
          afterFit: s => { s.width = AXIS_W; },
          ticks: { font: tickFont, color: '#262626', padding: 9 },
          grid: { color: '#ebebeb', drawTicks: false },
          border: { color: '#4a4a4a', width: 1 },
          title: { display: true, text: ['Relative', 'Peak Angle (Deg)'], font: titleFont, color: '#262626', padding: { top: 5, bottom: 0 } }
        }
      }
    },
    plugins: [legendPlugin(p.legend, left, top)]
  });
}

function caption(cx, cy, label, name, extra) {
  const d = document.createElement('div');
  d.className = 'cap';
  d.style.left = (cx - 110) + 'px';
  d.style.top = (cy - 12) + 'px';
  d.innerHTML = label + ' <b>' + name + '</b>' + (extra || '');
  document.body.appendChild(d);
}

const panels = [
  { before: aBefore, after: aAfter, lines: aDirection, xTicks: aXTicks, yTicks: aYTicks,
    xRange: [104, 592], yRange: [206, 299], area: { left: 68, top: 7, right: 308, bottom: 202 },
    legend: { x: 97, y: 147, w: 181, h: 46 } },
  { before: bBefore, after: bAfter, lines: bDirection, xTicks: bXTicks, yTicks: bYTicks,
    xRange: [15, 274], yRange: [28, 176], area: { left: 405, top: 7, right: 647, bottom: 202 },
    legend: { x: 408, y: 147, w: 183, h: 46 } },
  { before: cBefore, after: cAfter, lines: cDirection, xTicks: cXTicks, yTicks: cYTicks,
    xRange: [6, 318], yRange: [100, 234], area: { left: 71, top: 273, right: 312, bottom: 468 },
    legend: { x: 103, y: 413, w: 174, h: 45 } },
  { before: dBefore, after: dAfter, lines: dDirection, xTicks: dXTicks, yTicks: dYTicks,
    xRange: [60, 193], yRange: [241.4, 311], area: { left: 403, top: 273, right: 638, bottom: 468 },
    legend: { x: 431, y: 413, w: 181, h: 45 } },
  { before: eBefore, after: eAfter, lines: eDirection, xTicks: eXTicks, yTicks: eYTicks,
    xRange: [26.2, 176.8], yRange: [213.1, 289.5], area: { left: 72, top: 543, right: 312, bottom: 739 },
    legend: { x: 76, y: 683, w: 179, h: 45 } },
  { before: fBefore, after: fAfter, lines: fDirection, xTicks: fXTicks, yTicks: fYTicks,
    xRange: [7.8, 151], yRange: [207.7, 304.2], area: { left: 409, top: 549, right: 643, bottom: 739 },
    legend: { x: 438, y: 683, w: 175, h: 48 } }
];

panels.forEach(makePanel);

caption(158, 262, '(a)', '7thAVE');
caption(497, 262, '(b)', 'MUD');
caption(162, 527, '(c)', 'LAW1', ' and <b>LAW2</b>');
caption(497, 527, '(d)', 'BN');
caption(158, 795, '(e)', 'CU');
caption(493, 795, '(f)', 'RIV');
</script>
</body>
</html>
